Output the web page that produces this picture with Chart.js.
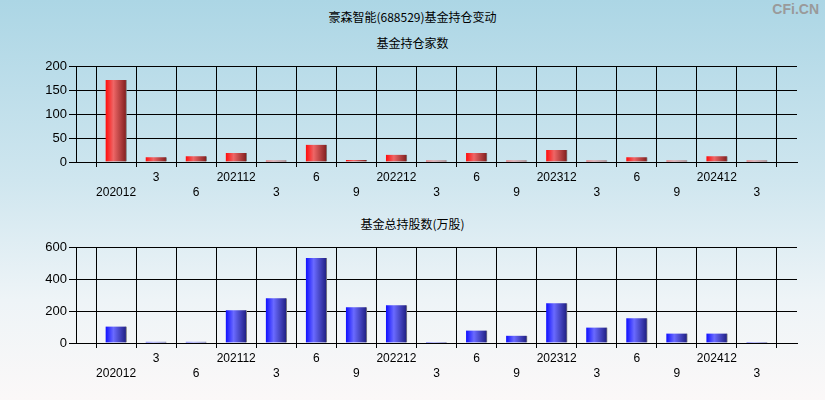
<!DOCTYPE html>
<html>
<head>
<meta charset="utf-8">
<script src="https://cdn.jsdelivr.net/npm/chart.js@4/dist/chart.umd.min.js"></script>
<style>
  html, body { margin:0; padding:0; }
  body { width:825px; height:400px; position:relative; overflow:hidden;
    background: linear-gradient(to bottom, #acd6e5 0%, #cfe6ef 45%, #eef4f7 75%, #fbf8f8 100%);
    font-family: "Liberation Sans", Arial, sans-serif; }
  .t { position:absolute; left:0; width:825px; text-align:center; font-family:"Noto Sans CJK SC", sans-serif; font-size:12px; color:#000; line-height:16px; }
  .wm { position:absolute; right:6px; top:1px; font-family:"Liberation Sans", Arial, sans-serif; font-weight:bold; font-size:14px; color:#9a9a9a; }
  canvas { position:absolute; left:0; }
</style>
</head>
<body>
<div class="t" style="top:9px;">豪森智能(688529)基金持仓变动</div>
<div class="t" style="top:35px;">基金持仓家数</div>
<div class="t" style="top:216px;">基金总持股数(万股)</div>
<div class="wm">CFi.CN</div>
<div style="position:absolute;left:0;top:54px;width:825px;height:149px;"><canvas id="c1"></canvas></div>
<div style="position:absolute;left:0;top:235px;width:825px;height:149px;"><canvas id="c2"></canvas></div>
<script>
// Categories (report periods), shown as short tick labels
const periods = ['202012','3','6','202112','3','6','9','202212','3','6','9','202312','3','6','9','202412','3'];
// Number of funds holding
const fundCount = [171,10,12,19,3,36,4,15,3,19,3,25,3,10,3,12,3];
// Total shares held by funds (10k shares)
const fundShares = [103,8,8,204,280,532,223,236,6,78,46,248,97,154,59,59,6];
const countTicks = [0,50,100,150,200];
const shareTicks = [0,200,400,600];

// padded category list: empty slot at both ends
const labels = [''].concat(periods).concat(['']);
const tickLabels = labels.map((l,i) => {
  if (i === 0 || i === labels.length-1) return ['',''];
  return (i % 2 === 1) ? ['', l] : [l, ''];
});
function pad(arr){ return [null].concat(arr).concat([null]); }

function barGradient(c0, c1, c2){
  return function(context){
    const chart = context.chart;
    const xs = chart.scales && chart.scales.x;
    if (!xs || !chart.chartArea) return c0;
    const x = xs.getPixelForValue(context.dataIndex);
    const g = chart.ctx.createLinearGradient(x-10, 0, x+11, 0);
    g.addColorStop(0, c0);
    g.addColorStop(0.35, c1);
    g.addColorStop(1, c2);
    return g;
  };
}

function makeChart(id, data, ticks, max, colors){
  return new Chart(document.getElementById(id), {
    type:'bar',
    data:{ labels: labels, datasets:[{
      data: pad(data),
      backgroundColor: barGradient(colors[0], colors[1], colors[2]),
      borderColor:'#808080',
      borderWidth:{left:0, top:0, bottom:0, right:1},
      borderSkipped:false,
      barThickness:21
    }]},
    options:{
      responsive:true, maintainAspectRatio:false, animation:false,
      devicePixelRatio:1,
      layout:{ padding:{ left:0, right:28, top:12, bottom:0 } },
      plugins:{ legend:{display:false}, tooltip:{enabled:false} },
      scales:{
        x:{
          offset:false,
          grid:{ color:'#000', lineWidth:1, drawTicks:true, tickLength:5, tickColor:'#000' },
          border:{ color:'#000', width:1 },
          ticks:{ autoSkip:false, maxRotation:0, minRotation:0, color:'#000', padding:3,
            font:{ family:'"Liberation Sans", Arial, sans-serif', size:12, lineHeight:1.25 },
            callback:(v,i)=>tickLabels[i] }
        },
        y:{
          min:0, max:max,
          afterBuildTicks:(s)=>{ s.ticks = ticks.map(v=>({value:v})); },
          afterFit:(s)=>{ s.width = 76; },
          grid:{ color:'#000', lineWidth:1, drawTicks:true, tickLength:7, tickColor:'#000' },
          border:{ color:'#000', width:1 },
          ticks:{ color:'#000', padding:2,
            font:{ family:'"Liberation Sans", Arial, sans-serif', size:13 } }
        }
      }
    }
  });
}
makeChart('c1', fundCount, countTicks, 200, ['#ff1010','#ee6666','#7a1a1a']);
makeChart('c2', fundShares, shareTicks, 600, ['#1414ff','#6a6aff','#1a1a7a']);
</script>
</body>
</html>
